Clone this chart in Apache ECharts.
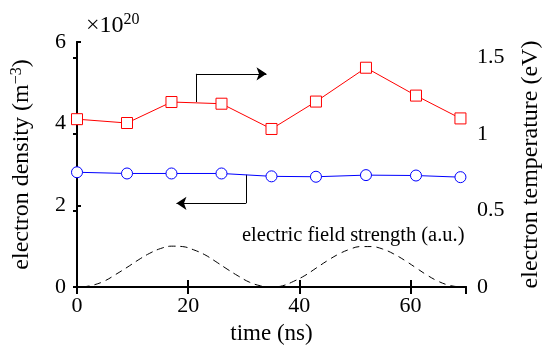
<!DOCTYPE html>
<html><head><meta charset="utf-8">
<script src="https://cdn.jsdelivr.net/npm/echarts@6/dist/echarts.min.js"></script>
<style>html,body{margin:0;padding:0;background:#fff}#c{width:551px;height:350px}</style>
</head><body><div id="c"></div>
<script>
const timeNs = [0, 9, 17, 26, 35, 43, 52, 61, 69];
const densityE20 = [2.81, 2.78, 2.78, 2.78, 2.71, 2.70, 2.74, 2.73, 2.69];
const temperatureEv = [1.096, 1.071, 1.208, 1.197, 1.032, 1.211, 1.432, 1.250, 1.101];
const fieldTime = [1,3,5,7,9,11,13,15,17,19,21,23,25,27,29,31,33,35,37,39,41,43,45,47,49,51,53,55,57,59,61,63,65,67,69];
const fieldAu = [0.00,0.05,0.15,0.31,0.48,0.66,0.82,0.94,1.00,0.99,0.91,0.79,0.62,0.44,0.27,0.12,0.03,0.00,0.03,0.14,0.28,0.46,0.64,0.80,0.92,0.99,0.99,0.93,0.81,0.65,0.47,0.29,0.14,0.04,0.00];
const tempArrowStem = [[21.4, 4.53], [21.4, 5.22]];
const tempArrowHead = [[21.4, 5.22], [34.1, 5.22]];
const densityArrowStem = [[30.4, 2.75], [30.4, 2.05]];
const densityArrowHead = [[30.4, 2.05], [17.9, 2.05]];
const densityScaleLabel = '×10';
const densityScaleExp = '20';
const fieldLabel = 'electric field strength (a.u.)';

const FONT = 'Liberation Serif, DejaVu Serif, Times New Roman, Times, serif';
const chart = echarts.init(document.getElementById('c'), null, {renderer: 'canvas'});
const axisLine = {show: true, lineStyle: {color: '#000', width: 2}};
const zip = (a, b) => a.map((v, i) => [v, b[i]]);

chart.setOption({
  animation: false,
  backgroundColor: '#fff',
  textStyle: {fontFamily: FONT},
  grid: {left: 77, right: 78, top: 42, bottom: 58},
  xAxis: [
    {type: 'value', min: 0, max: 70, interval: 20, position: 'bottom',
     axisLine, splitLine: {show: false},
     axisTick: {inside: true, length: 7, lineStyle: {color: '#000', width: 2}},
     axisLabel: {color: '#000', fontSize: 22, fontFamily: FONT, margin: 8, showMaxLabel: false},
     name: 'time (ns)', nameLocation: 'middle', nameGap: 35,
     nameTextStyle: {color: '#000', fontSize: 23, fontFamily: FONT}},
    {type: 'value', min: 0, max: 70, interval: 20, position: 'top',
     axisLine, splitLine: {show: false}, axisLabel: {show: false},
     axisTick: {inside: true, length: 7, lineStyle: {color: '#000', width: 2}}}
  ],
  yAxis: [
    {type: 'value', min: 0, max: 6, interval: 2, position: 'left',
     axisLine, splitLine: {show: false},
     axisTick: {inside: true, length: 4, lineStyle: {color: '#000', width: 2}},
     axisLabel: {color: '#000', fontSize: 22, fontFamily: FONT, margin: 11},
     name: '{a|electron density (m}{s|−3}{a|)}', nameLocation: 'middle', nameGap: 42, nameRotate: 90,
     nameTextStyle: {fontFamily: FONT, rich: {
       a: {color: '#000', fontSize: 24, fontFamily: FONT},
       s: {color: '#000', fontSize: 16, fontFamily: FONT, verticalAlign: 'top', padding: [0, 0, 10, 0]}}}},
    {type: 'value', min: 0, max: 1.6, interval: 0.5, position: 'right',
     axisLine, splitLine: {show: false},
     axisTick: {inside: true, length: 4, lineStyle: {color: '#000', width: 2}},
     axisLabel: {color: '#000', fontSize: 22, fontFamily: FONT, margin: 11, showMaxLabel: false},
     name: 'electron temperature (eV)', nameLocation: 'middle', nameGap: 53, nameRotate: 90,
     nameTextStyle: {color: '#000', fontSize: 24, fontFamily: FONT}}
  ],
  graphic: [
    {type: 'text', left: 86, top: 12, style: {
      text: '{a|' + densityScaleLabel + '}{s|' + densityScaleExp + '}', fontFamily: FONT,
      rich: {a: {fontSize: 24, fontFamily: FONT, fill: '#000'},
             s: {fontSize: 16, fontFamily: FONT, fill: '#000', verticalAlign: 'top', padding: [0, 0, 11, 0]}}}},
    {type: 'text', left: 242, top: 225, style: {text: fieldLabel, fontSize: 20.5, fontFamily: FONT, fill: '#000'}}
  ],
  series: [
    {type: 'line', xAxisIndex: 0, yAxisIndex: 0, data: zip(fieldTime, fieldAu), smooth: 0.4,
     showSymbol: false, symbol: 'none', lineStyle: {color: '#000', width: 1, type: [7, 5]}, z: 1},
    {type: 'line', xAxisIndex: 0, yAxisIndex: 1, data: zip(timeNs, temperatureEv),
     symbol: 'rect', symbolSize: 11, itemStyle: {color: '#fff', borderColor: '#ff0000', borderWidth: 1},
     lineStyle: {color: '#ff0000', width: 1}, z: 3},
    {type: 'line', xAxisIndex: 0, yAxisIndex: 0, data: zip(timeNs, densityE20),
     symbol: 'circle', symbolSize: 11, itemStyle: {color: '#fff', borderColor: '#0000ff', borderWidth: 1},
     lineStyle: {color: '#0000ff', width: 1}, z: 3},
    {type: 'lines', coordinateSystem: 'cartesian2d', xAxisIndex: 0, yAxisIndex: 0,
     symbol: ['none', 'none'],
     lineStyle: {color: '#000', width: 1, opacity: 1},
     data: [{coords: tempArrowStem}, {coords: densityArrowStem}], z: 2},
    {type: 'lines', coordinateSystem: 'cartesian2d', xAxisIndex: 0, yAxisIndex: 0,
     symbol: ['none', 'arrow'], symbolSize: [8, 10],
     lineStyle: {color: '#000', width: 1, opacity: 1},
     data: [{coords: tempArrowHead}, {coords: densityArrowHead}], z: 2}
  ]
});
</script></body></html>
